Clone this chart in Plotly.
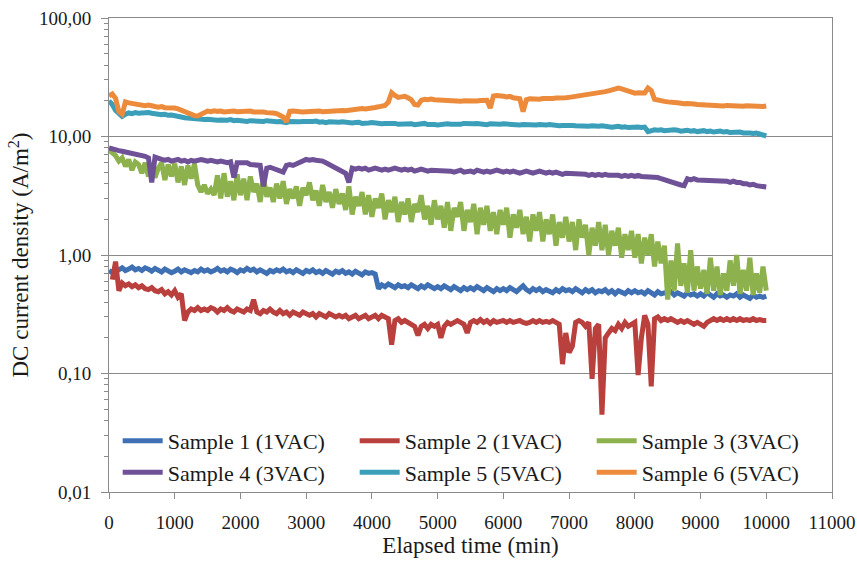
import plotly.graph_objects as go

# Sampling instants of the logger (min)
time_min = [
    0, 50, 100, 150, 200, 250, 300, 350, 400, 450,
    500, 550, 600, 650, 700, 750, 800, 850, 900, 950,
    1000, 1050, 1100, 1150, 1200, 1250, 1300, 1350, 1400, 1450,
    1500, 1550, 1600, 1650, 1700, 1750, 1800, 1850, 1900, 1950,
    2000, 2050, 2100, 2150, 2200, 2250, 2300, 2350, 2400, 2450,
    2500, 2550, 2600, 2650, 2700, 2750, 2800, 2850, 2900, 2950,
    3000, 3050, 3100, 3150, 3200, 3250, 3300, 3350, 3400, 3450,
    3500, 3550, 3600, 3650, 3700, 3750, 3800, 3850, 3900, 3950,
    4000, 4050, 4100, 4150, 4200, 4250, 4300, 4350, 4400, 4450,
    4500, 4550, 4600, 4650, 4700, 4750, 4800, 4850, 4900, 4950,
    5000, 5050, 5100, 5150, 5200, 5250, 5300, 5350, 5400, 5450,
    5500, 5550, 5600, 5650, 5700, 5750, 5800, 5850, 5900, 5950,
    6000, 6050, 6100, 6150, 6200, 6250, 6300, 6350, 6400, 6450,
    6500, 6550, 6600, 6650, 6700, 6750, 6800, 6850, 6900, 6950,
    7000, 7050, 7100, 7150, 7200, 7250, 7300, 7350, 7400, 7450,
    7500, 7550, 7600, 7650, 7700, 7750, 7800, 7850, 7900, 7950,
    8000, 8050, 8100, 8150, 8200, 8250, 8300, 8350, 8400, 8450,
    8500, 8550, 8600, 8650, 8700, 8750, 8800, 8850, 8900, 8950,
    9000, 9050, 9100, 9150, 9200, 9250, 9300, 9350, 9400, 9450,
    9500, 9550, 9600, 9650, 9700, 9750, 9800, 9850, 9900, 9950,
    10000,
]

# DC current density (A/m2) per sample
sample1 = [
    0.74, 0.71, 0.77, 0.75, 0.78, 0.74, 0.76, 0.79, 0.75, 0.77,
    0.74, 0.78, 0.76, 0.73, 0.77, 0.75, 0.72, 0.76, 0.74, 0.71,
    0.73, 0.76, 0.72, 0.75, 0.73, 0.71, 0.74, 0.72, 0.76, 0.73,
    0.75, 0.72, 0.74, 0.77, 0.73, 0.75, 0.72, 0.76, 0.74, 0.71,
    0.75, 0.73, 0.77, 0.74, 0.76, 0.72, 0.75, 0.73, 0.70, 0.74,
    0.72, 0.75, 0.73, 0.76, 0.72, 0.74, 0.71, 0.75, 0.73, 0.70,
    0.74, 0.72, 0.75, 0.71, 0.73, 0.70, 0.74, 0.72, 0.69, 0.73,
    0.71, 0.74, 0.70, 0.72, 0.69, 0.73, 0.71, 0.68, 0.72, 0.70,
    0.71, 0.69, 0.52, 0.56, 0.54, 0.57, 0.55, 0.53, 0.56, 0.54,
    0.55, 0.53, 0.56, 0.54, 0.52, 0.55, 0.53, 0.56, 0.54, 0.52,
    0.54, 0.52, 0.55, 0.53, 0.51, 0.54, 0.52, 0.50, 0.53, 0.51,
    0.53, 0.51, 0.54, 0.52, 0.50, 0.53, 0.51, 0.49, 0.52, 0.50,
    0.52, 0.50, 0.53, 0.51, 0.49, 0.52, 0.55, 0.51, 0.49, 0.52,
    0.50, 0.52, 0.49, 0.51, 0.50, 0.48, 0.51, 0.49, 0.52, 0.50,
    0.51, 0.49, 0.52, 0.50, 0.48, 0.51, 0.49, 0.51, 0.48, 0.50,
    0.49, 0.51, 0.48, 0.50, 0.47, 0.50, 0.49, 0.47, 0.50, 0.48,
    0.50, 0.48, 0.49, 0.47, 0.50, 0.48, 0.46, 0.49, 0.47, 0.48,
    0.47, 0.49, 0.46, 0.48, 0.47, 0.45, 0.48, 0.46, 0.47, 0.45,
    0.47, 0.45, 0.48, 0.46, 0.44, 0.47, 0.45, 0.46, 0.44, 0.46,
    0.45, 0.47, 0.44, 0.46, 0.45, 0.43, 0.46, 0.44, 0.45, 0.44,
    0.45,
]

sample2 = [
    None, 0.62, 0.88, 0.50, 0.58, 0.55, 0.57, 0.54, 0.56, 0.53,
    0.55, 0.52, 0.51, 0.53, 0.50, 0.49, 0.51, 0.47, 0.49, 0.46,
    0.50, 0.44, 0.47, 0.28, 0.33, 0.35, 0.34, 0.36, 0.34, 0.35,
    0.34, 0.36, 0.35, 0.33, 0.35, 0.34, 0.36, 0.34, 0.33, 0.35,
    0.34, 0.33, 0.35, 0.34, 0.42, 0.33, 0.32, 0.34, 0.33, 0.35,
    0.33, 0.32, 0.34, 0.32, 0.33, 0.31, 0.33, 0.32, 0.31, 0.33,
    0.32, 0.31, 0.32, 0.30, 0.32, 0.31, 0.30, 0.32, 0.31, 0.30,
    0.31, 0.30, 0.31, 0.29, 0.30, 0.31, 0.29, 0.30, 0.31, 0.29,
    0.30, 0.31, 0.29, 0.31, 0.30, 0.29, 0.175, 0.28, 0.29, 0.27,
    0.28, 0.27, 0.26, 0.25, 0.21, 0.25, 0.26, 0.24, 0.26, 0.25,
    0.26, 0.20, 0.25, 0.27, 0.26, 0.27, 0.28, 0.27, 0.26, 0.22,
    0.27, 0.28, 0.27, 0.285, 0.27, 0.28, 0.265, 0.28, 0.27, 0.275,
    0.28, 0.27, 0.28, 0.27, 0.275, 0.28, 0.27, 0.265, 0.27, 0.28,
    0.27, 0.28, 0.27, 0.275, 0.27, 0.28, 0.27, 0.26, 0.12, 0.22,
    0.15, 0.17, 0.27, 0.28, 0.27, 0.25, 0.27, 0.09, 0.24, 0.26,
    0.045, 0.20, 0.22, 0.24, 0.23, 0.26, 0.24, 0.27, 0.25, 0.26,
    0.27, 0.097, 0.20, 0.31, 0.26, 0.078, 0.29, 0.30, 0.28, 0.29,
    0.28, 0.29, 0.28, 0.27, 0.28, 0.27, 0.28, 0.27, 0.26, 0.27,
    0.26, 0.25, 0.27, 0.28, 0.29, 0.28, 0.29, 0.28, 0.29, 0.28,
    0.29, 0.28, 0.29, 0.28, 0.285, 0.28, 0.29, 0.28, 0.285, 0.28,
    0.28,
]

sample3 = [
    7.7, 7.3, 6.9, 6.2, 6.6, 5.6, 6.4, 5.2, 6.1, 5.8,
    4.9, 6.0, 4.6, 5.9, 4.5, 5.4, 6.0, 4.3, 5.8, 4.6,
    5.9, 4.1, 5.6, 3.9, 5.7, 4.4, 5.9, 3.9, 3.4, 3.9,
    3.3, 3.6, 3.2, 4.7, 3.0, 4.9, 3.1, 4.2, 2.9, 4.8,
    3.2, 4.4, 2.9, 4.6, 3.4, 4.0, 2.8, 4.5, 3.1, 3.7,
    2.8, 4.0, 3.0, 4.2, 2.7, 3.6, 3.0, 3.8, 2.6, 3.7,
    3.2, 4.1, 2.9, 3.5, 2.6, 3.9, 2.8, 3.4, 2.5, 3.6,
    2.7, 3.3, 2.4, 3.8, 2.2, 3.1, 2.6, 3.4, 2.2, 3.2,
    2.1, 3.0, 2.5, 3.3, 2.0, 2.9, 2.3, 3.1, 1.9, 2.8,
    2.2, 3.0, 1.9, 2.7, 2.3, 3.2, 2.0, 2.6, 1.8, 2.9,
    2.0, 2.6, 1.7, 2.8, 1.6, 2.5, 2.1, 2.8, 1.6, 2.4,
    1.9, 2.7, 1.5, 2.5, 1.8, 2.6, 1.6, 2.3, 1.5, 2.4,
    1.8, 2.5, 1.4, 2.2, 1.7, 2.4, 1.5, 2.1, 1.3, 2.2,
    1.6, 2.3, 1.3, 2.0, 1.5, 2.2, 1.2, 1.9, 1.4, 2.1,
    1.3, 1.9, 1.1, 2.0, 1.4, 1.8, 1.0, 1.7, 1.2, 1.9,
    1.1, 1.8, 1.0, 1.6, 1.2, 1.7, 0.95, 1.5, 1.1, 1.6,
    0.95, 1.5, 0.85, 1.4, 1.0, 1.5, 0.8, 1.3, 0.85, 1.2,
    0.42, 0.9, 0.5, 1.25, 0.55, 0.85, 0.48, 1.1, 0.5, 0.8,
    0.52, 0.75, 0.47, 0.95, 0.5, 0.8, 0.46, 0.7, 0.5, 0.9,
    0.55, 1.0, 0.47, 0.75, 0.5, 0.95, 0.46, 0.7, 0.48, 0.8,
    0.5,
]

sample4 = [
    8.0, 7.8, 7.7, 7.6, 7.5, 7.4, 7.3, 7.3, 7.2, 7.1,
    7.0, 6.8, 6.6, 4.1, 6.7, 6.5, 6.4, 6.3, 6.4, 6.2,
    6.3, 6.4, 6.2, 6.3, 6.1, 6.3, 6.2, 6.3, 6.4, 6.3,
    6.2, 6.3, 6.2, 6.1, 6.2, 6.1, 6.0, 6.1, 4.5, 6.0,
    6.0, 5.9, 6.0, 5.8, 5.8, 5.7, 5.7, 3.8, 5.4, 5.5,
    5.4, 5.3, 5.1, 5.0, 5.7, 5.8, 5.7, 5.9, 6.1, 6.3,
    6.4, 6.3, 6.4, 6.3, 6.3, 6.2, 6.0, 5.8, 5.6, 5.5,
    5.3, 5.1, 4.9, 4.1, 5.4, 5.3, 5.4, 5.3, 5.4, 5.2,
    5.3, 5.4, 5.3, 5.2, 5.3, 5.2, 5.3, 5.4, 5.3, 5.2,
    5.3, 5.2, 5.3, 5.1, 5.2, 5.3, 5.2, 5.1, 5.2, 5.2,
    5.1, 5.2, 5.1, 5.2, 5.1, 5.0, 5.1, 5.2, 5.0, 5.1,
    5.1, 5.0, 5.2, 5.1, 5.0, 5.1, 5.0, 5.1, 5.2, 5.1,
    5.0, 5.1, 5.0, 5.1, 5.0, 4.9, 5.0, 5.1, 5.0, 4.9,
    5.0, 5.1, 5.0, 4.9, 5.0, 4.9, 5.0, 4.9, 4.8, 4.9,
    4.9, 4.8, 4.9, 4.8, 4.9, 4.8, 4.7, 4.8, 4.7, 4.8,
    4.7, 4.8, 4.7, 4.7, 4.8, 4.7, 4.6, 4.7, 4.6, 4.7,
    4.6, 4.7, 4.6, 4.6, 4.5, 4.6, 4.5, 4.5, 4.4, 4.3,
    4.2, 4.1, 4.0, 4.0, 3.9, 3.85, 4.4, 4.3, 4.4, 4.3,
    4.3, 4.2, 4.3, 4.2, 4.3, 4.2, 4.2, 4.3, 4.2, 4.1,
    4.2, 4.1, 4.1, 4.0, 4.0, 3.9, 3.95, 3.85, 3.8, 3.75,
    3.75,
]

sample5 = [
    20.0, 18.6, 16.6, 15.4, 14.8, 15.4, 15.8, 15.6, 15.9, 15.7,
    15.8, 15.6, 15.9, 15.7, 15.5, 15.6, 15.3, 15.4, 15.1, 15.2,
    14.9, 14.7, 14.6, 14.4, 14.3, 14.1, 14.2, 14.0, 14.1, 13.9,
    14.0, 13.8, 13.9, 13.7, 13.8, 13.6, 13.7, 13.9, 13.6, 13.7,
    13.5, 13.6, 13.4, 13.6, 13.5, 13.3, 13.5, 13.4, 13.6, 13.4,
    13.5, 13.3, 13.4, 13.2, 13.1, 13.4, 13.3, 13.5, 13.3, 13.4,
    13.3, 13.2, 13.4, 13.5, 13.2, 13.3, 13.1, 13.3, 13.2, 13.0,
    13.2, 13.3, 13.1, 13.2, 13.0, 13.1, 13.2, 12.9, 13.1, 13.0,
    13.1, 12.9, 13.0, 12.8, 12.9, 13.0, 12.8, 12.9, 12.7, 12.8,
    12.9, 12.7, 12.8, 12.6, 12.8, 12.7, 12.9, 12.6, 12.7, 12.6,
    12.5, 12.7, 12.6, 12.8, 12.7, 12.6, 12.8, 12.7, 12.9, 12.8,
    12.7, 12.8, 12.9, 12.7, 12.8, 12.6, 12.8, 12.7, 12.6, 12.7,
    12.8, 12.7, 12.6, 12.8, 12.7, 12.5, 12.6, 12.5, 12.7, 12.6,
    12.5, 12.6, 12.4, 12.5, 12.6, 12.4, 12.5, 12.3, 12.4, 12.5,
    12.3, 12.4, 12.3, 12.2, 12.4, 12.3, 12.2, 12.3, 12.1, 12.2,
    12.3, 12.1, 12.2, 12.0, 12.1, 12.2, 12.0, 12.1, 11.9, 12.0,
    12.1, 12.0, 11.9, 12.0, 11.0, 11.2, 11.4, 11.3, 11.4, 11.2,
    11.3, 11.2, 11.4, 11.3, 11.1, 11.2, 11.3, 11.1, 11.2, 11.0,
    11.1, 11.2, 11.0, 11.1, 10.9, 11.0, 11.1, 10.9, 11.0, 10.8,
    10.9, 10.8, 10.9, 10.7, 10.8, 10.7, 10.6, 10.7, 10.5, 10.4,
    10.1,
]

sample6 = [
    22.0, 22.8, 21.0, 16.2, 15.4, 19.6, 19.2, 19.0, 18.8, 18.4,
    18.6, 18.2, 18.4, 18.0, 17.9, 17.7, 17.9, 17.5, 17.6, 17.3,
    17.4, 17.1, 16.6, 16.0, 15.6, 15.2, 15.0, 14.9, 15.4, 16.3,
    16.4, 16.2, 16.5, 16.3, 16.4, 16.1, 16.3, 16.2, 16.4, 16.2,
    16.3, 16.1, 16.2, 16.4, 16.1, 16.2, 16.0, 16.1, 15.9, 16.0,
    15.8, 15.6, 15.2, 14.6, 13.3, 16.3, 16.4, 16.2, 16.3, 16.1,
    16.2, 16.3, 16.1, 16.2, 16.4, 16.2, 16.3, 16.5, 16.3, 16.5,
    16.4, 16.6, 16.5, 16.7, 16.6, 16.9, 17.0, 17.2, 17.1, 17.4,
    17.4, 17.6, 17.8, 18.0, 18.3, 19.5, 23.4, 22.2, 21.4, 21.6,
    21.8, 21.2, 20.4, 18.6, 18.4, 20.2, 20.6, 20.4, 20.7, 20.4,
    20.3, 20.1, 20.4, 20.0, 20.2, 19.9, 20.1, 19.8, 20.0, 19.9,
    19.8, 20.0, 19.9, 20.1, 20.0, 20.2, 17.4, 22.0, 22.2, 21.8,
    21.9, 21.6, 21.8, 21.2, 21.0, 20.8, 16.2, 20.4, 20.8, 20.6,
    20.8, 20.6, 20.9, 20.8, 21.0, 20.9, 21.1, 21.0, 21.3, 21.2,
    21.4, 21.6, 21.5, 21.8, 22.0, 22.1, 22.4, 22.6, 22.9, 23.2,
    23.6, 23.9, 24.3, 24.8, 25.3, 25.6, 25.2, 24.6, 24.0, 23.5,
    23.2, 23.4, 23.1, 23.3, 25.6, 24.4, 20.6, 20.2, 20.0, 19.8,
    19.6, 19.7, 19.4, 19.3, 19.0, 18.9, 19.0, 18.7, 18.8, 18.6,
    18.5, 18.6, 18.4, 18.3, 18.5, 18.2, 18.3, 18.1, 18.3, 18.2,
    18.1, 18.3, 18.2, 18.0, 18.2, 18.1, 18.0, 18.2, 18.1, 17.9,
    18.1,
]

series_names = [
    "Sample 1 (1VAC)", "Sample 2 (1VAC)", "Sample 3 (3VAC)",
    "Sample 4 (3VAC)", "Sample 5 (5VAC)", "Sample 6 (5VAC)",
]
series_values = [sample1, sample2, sample3, sample4, sample5, sample6]
series_colors = ["#3f70b3", "#b9403d", "#8db14c", "#6f5197", "#3b9fba", "#ec8b3c"]

y_tick_vals = [0.01, 0.1, 1, 10, 100]
y_tick_text = ["0,01", "0,10", "1,00", "10,00", "100,00"]
y_minor_vals = [m * d for d in (0.01, 0.1, 1, 10) for m in range(2, 10)]
x_tick_vals = [0, 1000, 2000, 3000, 4000, 5000, 6000, 7000, 8000, 9000, 10000, 11000]
x_tick_text = [str(v) for v in x_tick_vals]

SERIF = "Liberation Serif"
TEXT_COL = "#1a1a1a"
AXIS_GREY = "#8a8a8a"


def serif(size):
    return dict(family=SERIF, size=size, color=TEXT_COL)


fig = go.Figure()
for name, vals, col in zip(series_names, series_values, series_colors):
    fig.add_trace(go.Scatter(
        x=time_min, y=vals, name=name, mode="lines",
        line=dict(color=col, width=5), connectgaps=False,
    ))

fig.update_layout(
    template="none",
    width=857, height=563,
    margin=dict(l=109, r=25, t=18, b=71, autoexpand=False),
    paper_bgcolor="white", plot_bgcolor="white",
    font=serif(19),
    showlegend=True,
    legend=dict(
        orientation="h", x=0.012, y=0.152, xanchor="left", yanchor="top",
        bgcolor="rgba(255,255,255,0)", borderwidth=0, font=serif(22),
        entrywidth=182, entrywidthmode="pixels", itemwidth=40,
        traceorder="normal", tracegroupgap=0,
    ),
)

fig.update_xaxes(
    range=[0, 11000], tickvals=x_tick_vals, ticktext=x_tick_text,
    tickfont=serif(19), ticklabeloverflow="allow",
    showline=True, linecolor=AXIS_GREY, linewidth=1, mirror=True,
    ticks="outside", ticklen=6, tickcolor=AXIS_GREY,
    ticklabelstandoff=7, showgrid=False, zeroline=False,
    title=dict(text="Elapsed time (min)", font=serif(23), standoff=0),
)

fig.update_yaxes(
    type="log", range=[-2, 2],
    tickvals=y_tick_vals, ticktext=y_tick_text, tickfont=serif(19),
    showline=True, linecolor=AXIS_GREY, linewidth=1, mirror=True,
    ticks="outside", ticklen=7, tickcolor=AXIS_GREY,
    ticklabelstandoff=6,
    showgrid=True, gridcolor=AXIS_GREY, gridwidth=1, zeroline=False,
    minor=dict(tickvals=y_minor_vals, ticks="outside", ticklen=4,
               tickcolor=AXIS_GREY, showgrid=False),
    title=dict(text="DC current density (A/m<sup>2</sup>)",
               font=serif(23), standoff=3),
)

fig.write_html("out.html")
